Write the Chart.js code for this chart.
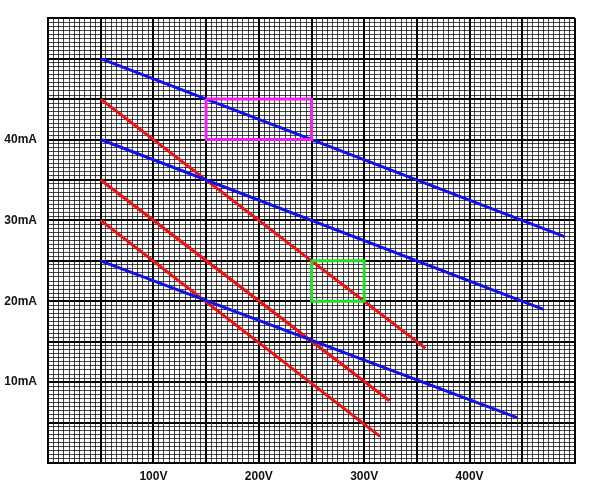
<!DOCTYPE html>
<html>
<head>
<meta charset="utf-8">
<script src="https://cdn.jsdelivr.net/npm/chart.js@4.4.1/dist/chart.umd.min.js"></script>
<style>
  html, body { margin: 0; padding: 0; background: #fff; }
  #wrap { width: 600px; height: 492px; }
</style>
</head>
<body>
<div id="wrap"><canvas id="grafico" width="600" height="492"></canvas></div>
<script>
// plate voltage (V) / plate current (mA) pairs
const blueA = [[50, 50], [490, 28]];
const blueB = [[50, 40], [470, 19]];
const blueC = [[50, 25], [445, 5.6]];
const redA = [[50, 45], [358, 14.2]];
const redB = [[50, 35], [324, 7.7]];
const redC = [[50, 30], [315, 3.3]];
const magentaBox = [[150, 45], [250, 45], [250, 40], [150, 40], [150, 45]];
const greenBox = [[250, 25], [300, 25], [300, 20], [250, 20], [250, 25]];

const xLabels = [100, 200, 300, 400];
const yLabels = [10, 20, 30, 40];

const toPts = arr => arr.map(p => ({ x: p[0], y: p[1] }));

const linha = (pts, cor) => ({
    data: toPts(pts),
    borderColor: cor,
    borderWidth: 3,
    pointRadius: 0,
    fill: false,
    tension: 0
});

const isMajor = (v, step) => {
    const r = Math.abs(v / step - Math.round(v / step));
    return r < 1e-6;
};

const fonte = { family: 'Liberation Sans, Arial, sans-serif', size: 12, weight: 'bold' };

document.addEventListener('DOMContentLoaded', () => {
    const ctx = document.getElementById('grafico').getContext('2d');
    new Chart(ctx, {
        type: 'line',
        data: {
            datasets: [
                linha(magentaBox, '#f020f0'),
                linha(greenBox, '#22dd22'),
                linha(blueA, '#1010e8'),
                linha(blueB, '#1010e8'),
                linha(blueC, '#1010e8'),
                linha(redA, '#f01010'),
                linha(redB, '#f01010'),
                linha(redC, '#f01010')
            ]
        },
        options: {
            responsive: false,
            animation: false,
            layout: { padding: { top: 18, right: 25, left: 0, bottom: 0 } },
            plugins: { legend: { display: false }, tooltip: { enabled: false } },
            scales: {
                x: {
                    type: 'linear',
                    min: 0,
                    max: 500,
                    afterFit: s => { s.height = 29; },
                    border: { display: true, color: '#000', width: 2 },
                    grid: {
                        drawTicks: false,
                        color: c => isMajor(c.tick.value, 50) ? '#000' : 'rgba(0,0,0,0.72)',
                        lineWidth: c => isMajor(c.tick.value, 50) ? 2 : 1
                    },
                    ticks: {
                        stepSize: 5,
                        autoSkip: false,
                        maxRotation: 0,
                        padding: 6,
                        color: '#111',
                        font: fonte,
                        callback: v => xLabels.includes(v) ? v + 'V' : ''
                    }
                },
                y: {
                    type: 'linear',
                    min: 0,
                    max: 55,
                    afterFit: s => { s.width = 48; },
                    border: { display: true, color: '#000', width: 2 },
                    grid: {
                        drawTicks: false,
                        color: c => isMajor(c.tick.value, 5) ? '#000' : 'rgba(0,0,0,0.72)',
                        lineWidth: c => isMajor(c.tick.value, 5) ? 2 : 1
                    },
                    ticks: {
                        stepSize: 0.5,
                        autoSkip: false,
                        padding: 11,
                        color: '#111',
                        font: fonte,
                        callback: v => yLabels.includes(v) ? v + 'mA' : ''
                    }
                }
            }
        }
    });
});
</script>
</body>
</html>
